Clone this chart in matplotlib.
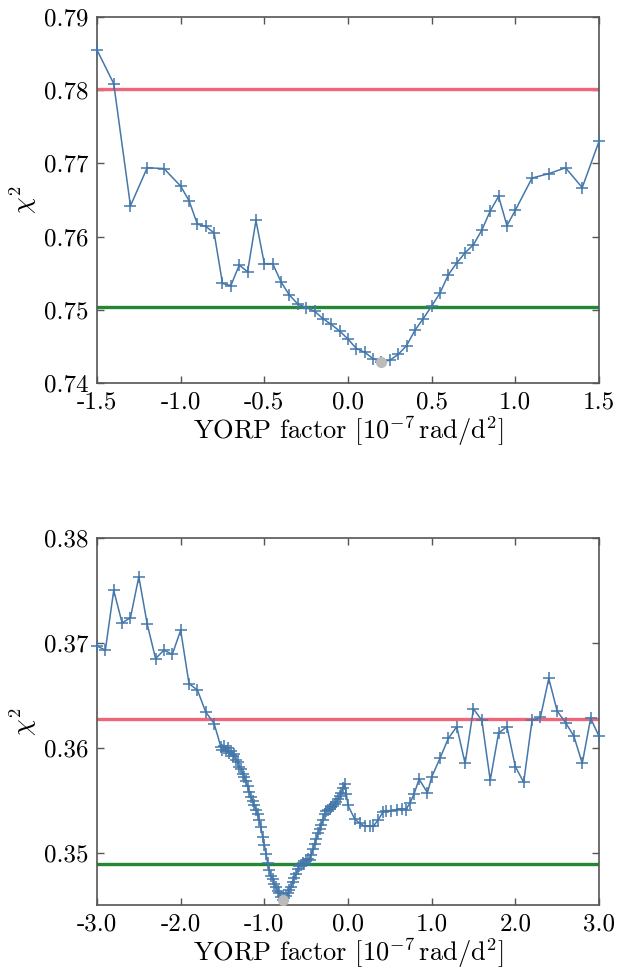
import matplotlib
matplotlib.use("Agg")
import matplotlib.pyplot as plt

plt.rcParams['font.family'] = 'serif'
plt.rcParams['font.serif'] = ['cmr10']
plt.rcParams['mathtext.fontset'] = 'cm'
plt.rcParams['axes.unicode_minus'] = False
plt.rcParams['axes.formatter.use_mathtext'] = True

# ---------------- data: top panel ----------------
top_x = [-1.5, -1.4, -1.3, -1.2, -1.1,
         -1.0, -0.95, -0.9, -0.85, -0.8, -0.75, -0.7, -0.65, -0.6, -0.55,
         -0.5, -0.45, -0.4, -0.35, -0.3, -0.25, -0.2, -0.15, -0.1, -0.05,
         0.0, 0.05, 0.1, 0.15, 0.2, 0.25, 0.3, 0.35, 0.4, 0.45,
         0.5, 0.55, 0.6, 0.65, 0.7, 0.75, 0.8, 0.85, 0.9, 0.95,
         1.0, 1.1, 1.2, 1.3, 1.4, 1.5]
top_chi2 = [0.7855, 0.7809, 0.7642, 0.7694, 0.7693,
            0.7669, 0.7649, 0.7617, 0.7614, 0.7605, 0.7536, 0.7533, 0.7561, 0.7552, 0.7622,
            0.7563, 0.7563, 0.7538, 0.7520, 0.7508, 0.7503, 0.7498, 0.7488, 0.7480, 0.7471,
            0.7460, 0.7447, 0.7442, 0.7433, 0.7429, 0.7431, 0.7439, 0.7451, 0.7472, 0.7488,
            0.7505, 0.7523, 0.7548, 0.7564, 0.7578, 0.7589, 0.7609, 0.7635, 0.7655, 0.7615,
            0.7636, 0.7680, 0.7686, 0.7694, 0.7667, 0.7730]
top_red = 0.7802
top_green = 0.7504
top_best = (0.2, 0.7429)

# ---------------- data: bottom panel ----------------
bot_x = [-3.0, -2.9, -2.8, -2.7, -2.6, -2.5, -2.4, -2.3, -2.2, -2.1,
         -2.0, -1.9, -1.8, -1.7, -1.6,
         -1.52, -1.50, -1.48, -1.46, -1.44, -1.42, -1.40, -1.38, -1.36, -1.34,
         -1.32, -1.30, -1.28, -1.26, -1.24, -1.22, -1.20, -1.18, -1.16, -1.14,
         -1.12, -1.10, -1.08, -1.06, -1.04, -1.02, -1.00, -0.98, -0.96, -0.94,
         -0.92, -0.90, -0.88, -0.86, -0.84, -0.82, -0.80, -0.78, -0.76, -0.74,
         -0.72, -0.70, -0.68, -0.66, -0.64, -0.62, -0.60, -0.58, -0.56, -0.54,
         -0.52, -0.50, -0.48, -0.46, -0.44, -0.42, -0.40, -0.38, -0.36, -0.34,
         -0.32, -0.30, -0.28, -0.26, -0.24, -0.22, -0.20, -0.18, -0.16, -0.14,
         -0.12, -0.10, -0.08, -0.06, -0.04, -0.02, 0.00,
         0.08, 0.14, 0.20, 0.26, 0.30, 0.36, 0.42, 0.46, 0.52, 0.58,
         0.64, 0.69, 0.74, 0.79, 0.85, 0.95, 1.0,
         1.1, 1.2, 1.3, 1.4, 1.5, 1.6, 1.7, 1.8, 1.9, 2.0,
         2.1, 2.2, 2.3, 2.4, 2.5, 2.6, 2.7, 2.8, 2.9, 3.0]
bot_chi2 = [0.3697, 0.3693, 0.3750, 0.3719, 0.3724, 0.3763, 0.3718, 0.3685, 0.3693, 0.3689,
            0.3712, 0.3661, 0.3655, 0.3634, 0.3623,
            0.3601, 0.3598, 0.3602, 0.3597, 0.3600, 0.3595, 0.3597, 0.3592, 0.3594, 0.3588,
            0.3586, 0.3582, 0.3580, 0.3575, 0.3572, 0.3568, 0.3563, 0.3558, 0.3553, 0.3549,
            0.3545, 0.3541, 0.3537, 0.3531, 0.3524, 0.3515, 0.3507, 0.3499, 0.3490, 0.3483,
            0.3478, 0.3475, 0.3470, 0.3467, 0.3463, 0.3461, 0.3458, 0.3455, 0.3457, 0.3459,
            0.3461, 0.3464, 0.3467, 0.3472, 0.3476, 0.3480, 0.3484, 0.3487, 0.3488, 0.3490,
            0.3489, 0.3492, 0.3494, 0.3493, 0.3498, 0.3503, 0.3508, 0.3513, 0.3519, 0.3522,
            0.3526, 0.3531, 0.3537, 0.3540, 0.3541, 0.3542, 0.3543, 0.3544, 0.3546, 0.3548,
            0.3551, 0.3554, 0.3557, 0.3562, 0.3565, 0.3556, 0.3545,
            0.3532, 0.3528, 0.3525, 0.3525, 0.3525, 0.3531, 0.3539, 0.3540, 0.3540, 0.3541,
            0.3542, 0.3541, 0.3547, 0.3556, 0.3570, 0.3557, 0.3572,
            0.3590, 0.3609, 0.3620, 0.3585, 0.3637, 0.3626, 0.3569, 0.3614, 0.3620, 0.3582,
            0.3567, 0.3626, 0.3629, 0.3666, 0.3635, 0.3624, 0.3611, 0.3585, 0.3628, 0.3611]
bot_red = 0.3627
bot_green = 0.3489
bot_best = (-0.78, 0.3455)

top_xticks = [-1.5, -1.0, -0.5, 0.0, 0.5, 1.0, 1.5]
top_xticklabels = ['-1.5', '-1.0', '-0.5', '0.0', '0.5', '1.0', '1.5']
top_yticks = [0.74, 0.75, 0.76, 0.77, 0.78, 0.79]
top_yticklabels = ['0.74', '0.75', '0.76', '0.77', '0.78', '0.79']
bot_xticks = [-3.0, -2.0, -1.0, 0.0, 1.0, 2.0, 3.0]
bot_xticklabels = ['-3.0', '-2.0', '-1.0', '0.0', '1.0', '2.0', '3.0']
bot_yticks = [0.35, 0.36, 0.37, 0.38]
bot_yticklabels = ['0.35', '0.36', '0.37', '0.38']

BLUE = '#4477AA'
RED = '#EE6677'
GREEN = '#228833'
GREY = '#BBBBBB'
FS = 18
FL = 19

fig = plt.figure(figsize=(6.17, 9.73), dpi=100)
ax1 = fig.add_axes([0.1572, 0.6064, 0.9708 - 0.1572, 0.9825 - 0.6064])
ax2 = fig.add_axes([0.1572, 0.0699, 0.9708 - 0.1572, 0.4471 - 0.0699])


def draw(ax, x, y, red, green, best, xlim, ylim, xt, xtl, yt, ytl):
    ax.axhline(red, color=RED, lw=2.4, zorder=2)
    ax.axhline(green, color=GREEN, lw=2.4, zorder=2)
    ax.plot(x, y, color=BLUE, lw=1.1, marker='+', ms=8.5, mew=1.1, zorder=3,
            clip_on=False)
    ax.plot([best[0]], [best[1]], 'o', color=GREY, ms=7, zorder=4, clip_on=False)
    ax.set_xlim(*xlim)
    ax.set_ylim(*ylim)
    ax.set_xticks(xt)
    ax.set_xticklabels(xtl)
    ax.set_yticks(yt)
    ax.set_yticklabels(ytl)
    ax.tick_params(direction='in', top=True, right=True, length=5, width=1.0,
                   color='#555555', labelsize=FS, pad=6)
    for s in ax.spines.values():
        s.set_color('#555555')
        s.set_linewidth(1.2)
    ax.set_xlabel(r'YORP factor [$10^{-7}\,$rad/d$^2$]', fontsize=FL, labelpad=0.5)
    ax.set_ylabel(r'$\chi^2$', fontsize=FL, labelpad=4)


draw(ax1, top_x, top_chi2, top_red, top_green, top_best, (-1.5, 1.5), (0.74, 0.79),
     top_xticks, top_xticklabels, top_yticks, top_yticklabels)
draw(ax2, bot_x, bot_chi2, bot_red, bot_green, bot_best, (-3.0, 3.0), (0.345, 0.38),
     bot_xticks, bot_xticklabels, bot_yticks, bot_yticklabels)

fig.savefig('out.png', dpi=100)
